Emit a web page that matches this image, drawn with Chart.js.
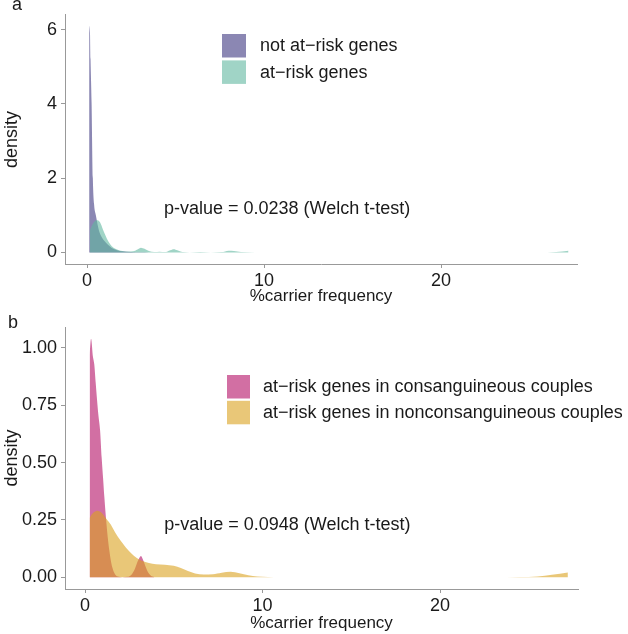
<!DOCTYPE html>
<html><head><meta charset="utf-8">
<script src="https://cdn.jsdelivr.net/npm/chart.js@4/dist/chart.umd.min.js"></script>
<style>
html,body{margin:0;padding:0;background:#fff;}
#wrap{position:relative;width:628px;height:634px;overflow:hidden;background:#fff;}
.pane{position:absolute;left:0;width:628px;}
canvas{display:block;}
</style></head><body>
<div id="wrap">
<div class="pane" style="top:0;height:310px"><canvas id="ca" width="628" height="310"></canvas></div>
<div class="pane" style="top:310px;height:324px"><canvas id="cb" width="628" height="324"></canvas></div>
</div>
<script>
// ---------- Panel a data (density vs %carrier frequency) ----------
const xNotAtRisk = [0.12,0.16,0.2,0.26,0.33,0.4,0.5,0.6,0.7,0.85,1.0,1.2,1.4,1.7,2.0,2.5,3.0,3.5];
const dNotAtRisk = [5.9,6.1,5.2,4.0,2.0,1.3,1.0,0.75,0.55,0.4,0.3,0.2,0.12,0.06,0.03,0.015,0.008,0.003];
const xAtRisk = [0.17,0.3,0.45,0.6,0.75,0.9,1.05,1.2,1.4,1.6,1.8,2.0,2.3,2.6,2.85,3.05,3.25,3.5,3.8,4.1,4.4,4.7,4.9,5.1,5.4,5.8,6.4,7.0,7.6,8.0,8.3,8.7,9.5,11,14,18,22,25,26,26.5,27.2];
const dAtRisk = [0.6,0.75,0.85,0.87,0.8,0.62,0.45,0.3,0.17,0.1,0.06,0.04,0.025,0.03,0.08,0.13,0.1,0.04,0.01,0.02,0.01,0.06,0.09,0.06,0.01,0.003,0.01,0.002,0.01,0.05,0.04,0.01,0.002,0.0005,0.0003,0.0003,0.0003,0.0005,0.003,0.012,0.045];

// ---------- Panel b data ----------
const xConsang = [0.26,0.34,0.45,0.52,0.6,0.66,0.75,0.85,0.94,1.02,1.09,1.18,1.3,1.42,1.55,1.7,1.85,2.1,2.4,2.6,2.8,3.0,3.15,3.3,3.5,3.7,3.9];
const dConsang = [0.97,1.04,0.96,0.93,0.85,0.79,0.71,0.64,0.52,0.43,0.35,0.26,0.16,0.09,0.04,0.012,0.003,0.0005,0.002,0.01,0.035,0.075,0.093,0.07,0.03,0.008,0.001];
const xNonconsang = [0.26,0.45,0.7,0.95,1.2,1.45,1.7,2.0,2.3,2.6,2.9,3.2,3.6,4.0,4.5,5.0,5.4,5.8,6.2,6.7,7.2,7.7,8.2,8.7,9.2,9.7,10.3,11,13,16,20,23,24.5,25.5,26.3,27.2];
const dNonconsang = [0.26,0.28,0.29,0.28,0.255,0.23,0.195,0.16,0.13,0.105,0.085,0.072,0.062,0.057,0.055,0.05,0.04,0.027,0.017,0.012,0.013,0.02,0.024,0.018,0.009,0.004,0.0015,0.0005,0.0002,0.0002,0.0002,0.0003,0.001,0.004,0.011,0.021];

// ---------- Tick labels / text ----------
const xTicks = [0,10,20];
const xTickLabels = ['0','10','20'];
const yTicksA = [0,2,4,6];
const yTickLabelsA = ['0','2','4','6'];
const yTicksB = [0,0.25,0.5,0.75,1.0];
const yTickLabelsB = ['0.00','0.25','0.50','0.75','1.00'];
const seriesNamesA = ['not at\u2212risk genes','at\u2212risk genes'];
const seriesNamesB = ['at\u2212risk genes in consanguineous couples','at\u2212risk genes in nonconsanguineous couples'];
const noteA = 'p-value = 0.0238 (Welch t-test)';
const noteB = 'p-value = 0.0948 (Welch t-test)';
const xTitle = '%carrier frequency';
const yTitle = 'density';

const FONT = '"Liberation Sans", Arial, Helvetica, sans-serif';
const AXIS = '#999999';
const TXT = '#1a1a1a';

const pts = (xs, ys) => xs.map((x, i) => ({x: x, y: ys[i]}));

const decor = {
  id: 'decor',
  afterDraw(chart, args, o) {
    const ctx = chart.ctx;
    ctx.save();
    ctx.fillStyle = TXT;
    ctx.font = '18px ' + FONT;
    ctx.textAlign = 'left';
    ctx.textBaseline = 'alphabetic';
    ctx.fillText(o.letter, o.letterX, o.letterY);
    const xs = chart.scales.x, ys = chart.scales.y;
    ctx.textAlign = 'center';
    ctx.textBaseline = 'middle';
    ctx.fillText(o.note, xs.getPixelForValue(o.noteX), ys.getPixelForValue(o.noteY));
    o.items.forEach((it, i) => {
      const y0 = o.boxY + i * o.step;
      ctx.fillStyle = it.color;
      ctx.fillRect(o.boxX, y0, o.boxW, o.boxH);
      ctx.fillStyle = TXT;
      ctx.textAlign = 'left';
      ctx.fillText(it.text, o.textX, y0 + o.boxH / 2 + 0.5);
    });
    ctx.restore();
  }
};

function makeScales(xmin, xmax, ymin, ymax, yt, ytl, yW, xH, tPad) {
  return {
    x: {
      type: 'linear', min: xmin, max: xmax,
      afterBuildTicks: s => { s.ticks = xTicks.map(v => ({value: v})); },
      afterFit: s => { s.height = xH; },
      ticks: { callback: (v, i) => xTickLabels[i], color: TXT, font: {family: FONT, size: 18}, padding: 2, maxRotation: 0, autoSkip: false },
      grid: { drawOnChartArea: false, drawTicks: true, tickLength: 4, color: AXIS, lineWidth: 1 },
      border: { display: true, color: AXIS, width: 1 },
      title: { display: true, text: xTitle, color: TXT, font: {family: FONT, size: 17}, padding: {top: 0, bottom: tPad} }
    },
    y: {
      type: 'linear', min: ymin, max: ymax,
      afterBuildTicks: s => { s.ticks = yt.map(v => ({value: v})); },
      afterFit: s => { s.width = yW; },
      ticks: { callback: (v, i) => ytl[i], color: TXT, font: {family: FONT, size: 18}, padding: 4, autoSkip: false },
      grid: { drawOnChartArea: false, drawTicks: true, tickLength: 4, color: AXIS, lineWidth: 1 },
      border: { display: true, color: AXIS, width: 1 },
      title: { display: true, text: yTitle, color: TXT, font: {family: FONT, size: 18}, padding: {top: 1, bottom: 0} }
    }
  };
}

const ds = (label, xs, ys, fill, order) => ({
  label: label, data: pts(xs, ys), order: order,
  backgroundColor: fill, borderColor: 'rgba(0,0,0,0)', borderWidth: 0,
  pointRadius: 0, fill: 'origin', cubicInterpolationMode: 'monotone'
});

const purple = 'rgba(62,55,128,0.6)', purpleKey = '#8b87b3';
const teal = 'rgba(97,183,160,0.6)', tealKey = '#a0d4c6';
const pink = 'rgba(180,15,102,0.6)', pinkKey = '#d26fa3';
const gold = 'rgba(218,162,30,0.6)', goldKey = '#e9c778';

new Chart(document.getElementById('ca'), {
  type: 'line',
  data: { datasets: [
    ds(seriesNamesA[0], xNotAtRisk, dNotAtRisk, purple, 1),
    ds(seriesNamesA[1], xAtRisk, dAtRisk, teal, 0)
  ]},
  options: {
    responsive: false, animation: false, events: [],
    layout: { padding: { left: 0, top: 3, right: 51, bottom: 0 } },
    plugins: { legend: {display: false}, tooltip: {enabled: false},
      decor: { letter: 'a', letterX: 12, letterY: 10, note: noteA, noteX: 11.3, noteY: 1.165,
        boxX: 222, boxY: 34, boxW: 24, boxH: 23.5, step: 26.4, textX: 260,
        items: [{text: seriesNamesA[0], color: purpleKey}, {text: seriesNamesA[1], color: tealKey}] } },
    scales: makeScales(-1.243, 27.68, -0.31, 6.4, yTicksA, yTickLabelsA, 65, 46, 3)
  },
  plugins: [decor]
});

new Chart(document.getElementById('cb'), {
  type: 'line',
  data: { datasets: [
    ds(seriesNamesB[0], xConsang, dConsang, pink, 1),
    ds(seriesNamesB[1], xNonconsang, dNonconsang, gold, 0)
  ]},
  options: {
    responsive: false, animation: false, events: [],
    layout: { padding: { left: 0, top: 17, right: 50, bottom: 0 } },
    plugins: { legend: {display: false}, tooltip: {enabled: false},
      decor: { letter: 'b', letterX: 8, letterY: 18, note: noteB, noteX: 11.4, noteY: 0.228,
        boxX: 227, boxY: 65, boxW: 23, boxH: 23.5, step: 25.8, textX: 263,
        items: [{text: seriesNamesB[0], color: pinkKey}, {text: seriesNamesB[1], color: goldKey}] } },
    scales: makeScales(-1.127, 27.77, -0.051, 1.091, yTicksB, yTickLabelsB, 65, 45, 0)
  },
  plugins: [decor]
});
</script>
</body></html>
